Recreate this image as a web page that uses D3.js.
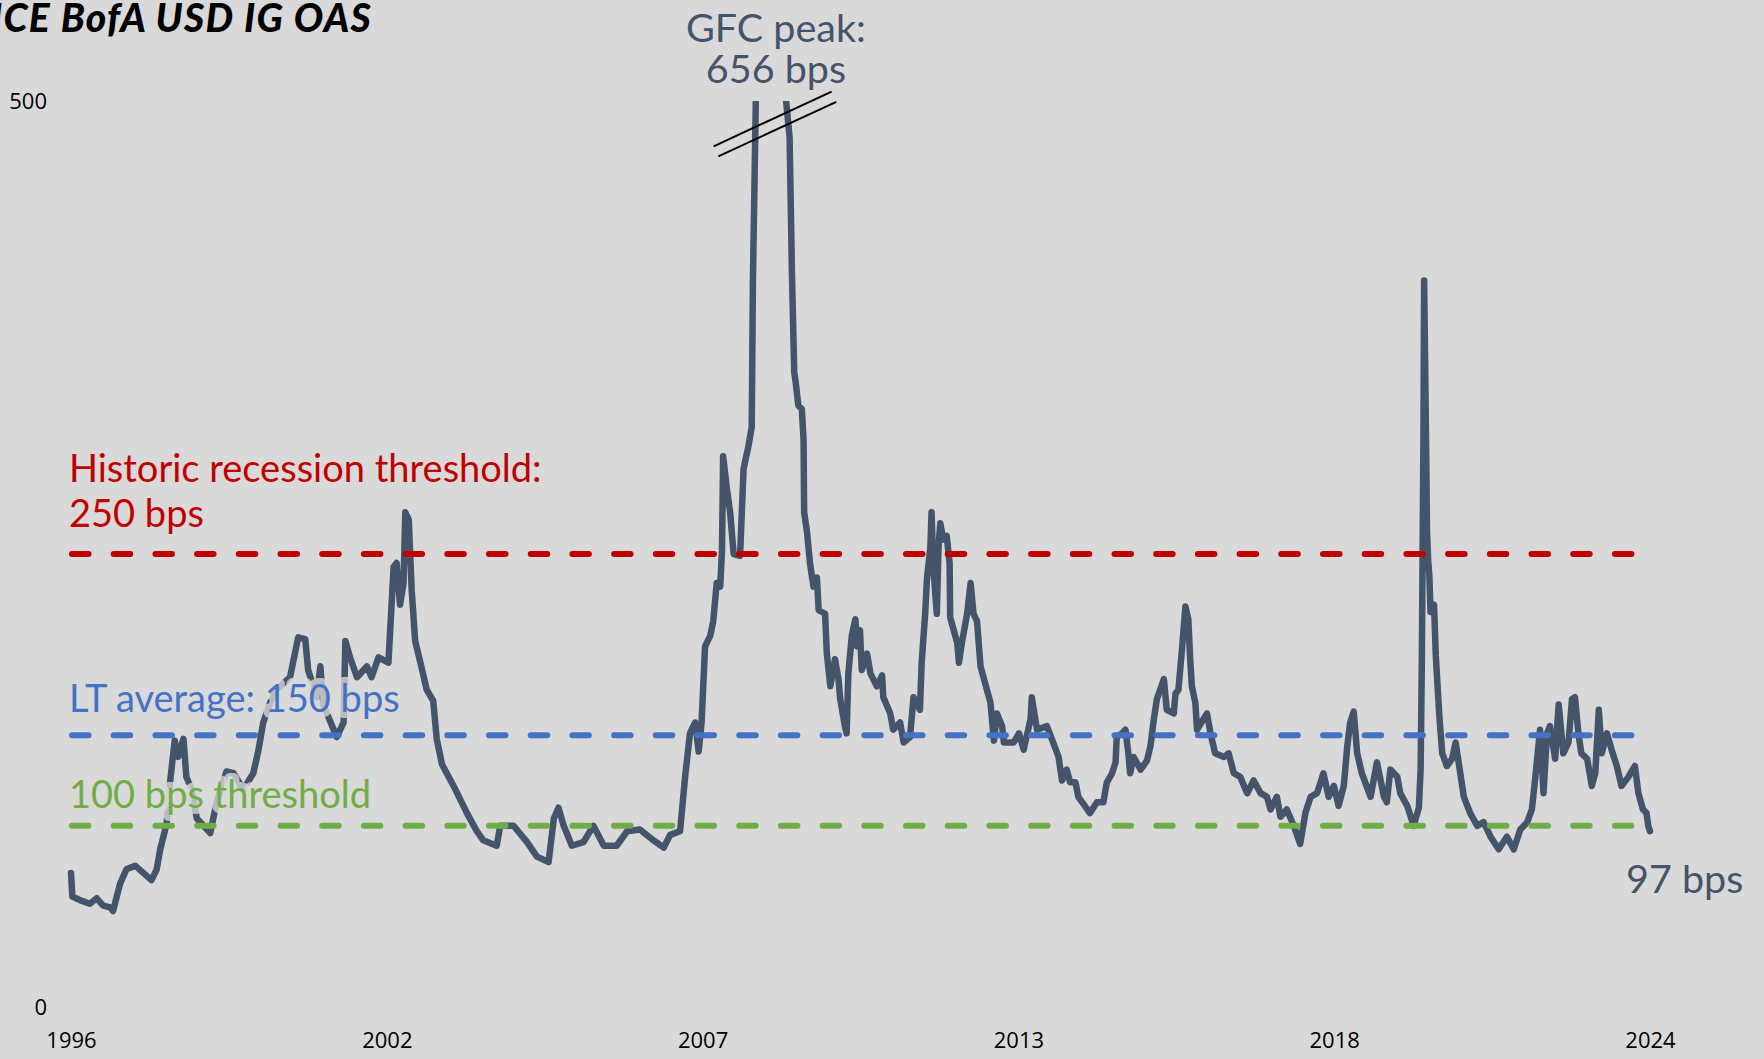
<!DOCTYPE html>
<html>
<head>
<meta charset="utf-8">
<script src="https://cdn.jsdelivr.net/npm/d3@7"></script>
<style>
  body { margin: 0; background: #d9d9d9; }
  svg { display: block; }
</style>
</head>
<body>
<svg id="chart"></svg>
<script>
// ICE BofA USD IG OAS, bps, [decimal year, value]
const oas = [
  [1996.997,74],[1997.02,61],[1997.15,59],[1997.32,57],[1997.44,60],[1997.55,56],[1997.67,55],[1997.72,53],
  [1997.84,68],[1997.95,76],[1998.10,78],[1998.24,74],[1998.38,70],[1998.47,76],[1998.53,87],[1998.64,101],
  [1998.70,124],[1998.73,133],[1998.78,147],[1998.84,138],[1998.93,148],[1998.98,127],[1999.07,120],[1999.16,104],
  [1999.39,96],[1999.50,113],[1999.67,130],[1999.79,129],[1999.96,120],[2000.13,129],[2000.22,142],[2000.30,157],
  [2000.42,168],[2000.53,175],[2000.76,182],[2000.90,204],[2001.02,203],[2001.07,186],[2001.22,171],[2001.28,188],
  [2001.33,167],[2001.56,149],[2001.68,157],[2001.71,202],[2001.79,193],[2001.91,182],[2002.08,188],[2002.16,182],
  [2002.28,193],[2002.45,190],[2002.54,243],[2002.59,245],[2002.65,222],[2002.71,234],[2002.74,273],[2002.80,269],
  [2002.85,230],[2002.91,202],[2003.00,190],[2003.11,175],[2003.22,169],[2003.28,148],[2003.37,134],[2003.57,122],
  [2003.80,107],[2003.97,97],[2004.08,92],[2004.31,89],[2004.37,100],[2004.60,100],[2004.83,91],[2005.00,83],
  [2005.20,80],[2005.29,104],[2005.37,110],[2005.46,100],[2005.60,89],[2005.80,91],[2005.97,100],[2006.15,89],
  [2006.37,89],[2006.55,97],[2006.77,98],[2007.00,92],[2007.18,88],[2007.29,95],[2007.46,97],[2007.55,128],
  [2007.63,151],[2007.72,157],[2007.78,141],[2007.83,157],[2007.89,199],[2007.98,205],[2008.03,213],[2008.09,234],
  [2008.15,232],[2008.18,252],[2008.20,304],[2008.26,287],[2008.32,273],[2008.38,250],[2008.49,249],[2008.52,273],
  [2008.55,297],[2008.63,309],[2008.69,320],[2008.71,400],[2008.77,520],[2008.85,590],[2008.93,656],[2009.00,610],
  [2009.10,570],[2009.20,540],[2009.28,500],[2009.34,480],[2009.38,405],[2009.42,350],[2009.44,346],[2009.49,332],
  [2009.55,330],[2009.58,313],[2009.59,273],[2009.64,262],[2009.69,245],[2009.75,232],[2009.81,237],[2009.84,219],
  [2009.95,217],[2009.98,195],[2010.04,177],[2010.12,192],[2010.18,181],[2010.21,170],[2010.29,155],[2010.32,151],
  [2010.35,184],[2010.41,205],[2010.47,214],[2010.50,199],[2010.55,208],[2010.58,186],[2010.67,195],[2010.73,184],
  [2010.84,177],[2010.93,183],[2010.95,171],[2011.07,162],[2011.12,153],[2011.24,157],[2011.30,146],[2011.41,149],
  [2011.47,171],[2011.58,164],[2011.61,190],[2011.67,217],[2011.70,236],[2011.76,254],[2011.78,273],[2011.81,243],
  [2011.87,217],[2011.90,254],[2011.93,267],[2011.98,258],[2012.04,260],[2012.09,245],[2012.10,215],[2012.16,208],
  [2012.22,201],[2012.25,190],[2012.30,201],[2012.39,217],[2012.45,234],[2012.50,217],[2012.56,213],[2012.62,188],
  [2012.73,175],[2012.79,168],[2012.85,147],[2012.90,162],[2012.99,155],[2013.02,146],[2013.19,146],[2013.28,151],
  [2013.36,142],[2013.48,159],[2013.50,171],[2013.59,153],[2013.76,155],[2013.82,150],[2013.96,138],[2014.02,125],
  [2014.10,131],[2014.16,124],[2014.25,124],[2014.30,116],[2014.39,112],[2014.50,107],[2014.62,113],[2014.73,113],
  [2014.79,124],[2014.88,129],[2014.94,135],[2014.96,149],[2015.05,151],[2015.11,153],[2015.16,140],[2015.19,129],
  [2015.25,138],[2015.37,131],[2015.48,136],[2015.54,144],[2015.59,157],[2015.65,170],[2015.77,181],[2015.82,164],
  [2015.94,162],[2015.97,173],[2016.02,175],[2016.08,197],[2016.14,221],[2016.19,214],[2016.22,193],[2016.25,177],
  [2016.31,168],[2016.34,153],[2016.45,159],[2016.51,162],[2016.57,151],[2016.65,140],[2016.80,138],[2016.88,140],
  [2016.97,129],[2017.08,127],[2017.20,118],[2017.31,125],[2017.43,118],[2017.54,116],[2017.60,109],[2017.71,116],
  [2017.77,105],[2017.88,109],[2018.00,100],[2018.11,90],[2018.20,107],[2018.29,116],[2018.40,118],[2018.51,129],
  [2018.60,116],[2018.69,122],[2018.77,111],[2018.86,122],[2018.92,144],[2018.97,157],[2019.03,163],[2019.09,140],
  [2019.17,129],[2019.32,116],[2019.43,135],[2019.55,116],[2019.60,113],[2019.66,131],[2019.78,127],[2019.83,118],
  [2019.95,111],[2020.06,100],[2020.15,110],[2020.18,131],[2020.20,188],[2020.23,323],[2020.24,401],[2020.27,321],
  [2020.29,262],[2020.31,246],[2020.33,238],[2020.35,218],[2020.41,222],[2020.44,194],[2020.50,161],[2020.55,140],
  [2020.63,133],[2020.72,137],[2020.78,146],[2020.86,129],[2020.92,116],[2021.03,107],[2021.15,100],[2021.26,102],
  [2021.38,94],[2021.52,87],[2021.66,94],[2021.78,87],[2021.89,98],[2022.01,102],[2022.09,109],[2022.15,127],
  [2022.23,153],[2022.29,118],[2022.35,151],[2022.40,155],[2022.49,137],[2022.55,167],[2022.63,140],[2022.72,146],
  [2022.78,170],[2022.83,171],[2022.89,151],[2022.94,140],[2023.04,137],[2023.12,122],[2023.18,129],[2023.24,164],
  [2023.29,140],[2023.38,151],[2023.46,142],[2023.55,133],[2023.63,122],[2023.75,127],[2023.86,133],[2023.92,118],
  [2024.00,109],[2024.06,107],[2024.09,100],[2024.12,97]
];

const yTicks = [0, 500];
const yMax = 500;
const thresholdValues = [250, 150, 100];
const thresholdLabels = [
  ["Historic recession threshold:", "250 bps"],
  ["LT average: 150 bps"],
  ["100 bps threshold"]
];
const gfcLabel = ["GFC peak:", "656 bps"];
const lastLabel = "97 bps";
const title = "ICE BofA USD IG OAS";

const width = 1764, height = 1059;
const lineColor = "#44546a";
const thresholdColors = ["#c00000", "#4472c4", "#70ad47"];
const labelOffsets = [-72.5, -23.7, -17.6]; // first baseline above each threshold line

function toDate(yr) {
  const y = Math.floor(yr);
  const a = new Date(y, 0, 1), b = new Date(y + 1, 0, 1);
  return new Date(+a + (yr - y) * (b - a));
}

const data = oas.map(d => ({date: toDate(d[0]), value: d[1]}));

const svg = d3.select("#chart")
    .attr("width", width)
    .attr("height", height)
    .style("background", "#d9d9d9");

const x = d3.scaleTime()
    .domain(d3.extent(data, d => d.date))
    .range([71, 1650]);

const y = d3.scaleLinear()
    .domain([0, yMax])
    .range([1007, 101]);

// title, cut off on the left like the source
svg.append("text")
    .attr("x", 372)
    .attr("y", 32)
    .attr("text-anchor", "end")
    .style("font-family", "Lato, 'Open Sans', sans-serif")
    .style("font-weight", 900)
    .style("font-style", "italic")
    .style("font-size", "39px")
    .style("letter-spacing", "1.3px")
    .style("fill", "#000")
    .text(title);

// axes: labels only
const [d0, d1] = x.domain();
const xTicks = d3.range(6).map(i => new Date(+d0 + i * (d1 - d0) / 5));

const xAxis = svg.append("g")
    .attr("transform", `translate(0,${y(0)})`)
    .call(d3.axisBottom(x).tickValues(xTicks).tickFormat(d3.timeFormat("%Y")).tickSize(0).tickPadding(25));

const yAxis = svg.append("g")
    .attr("transform", "translate(47,0)")
    .call(d3.axisLeft(y).tickValues(yTicks).tickSize(0).tickPadding(0));

[xAxis, yAxis].forEach(g => {
  g.select(".domain").remove();
  g.selectAll("text")
      .style("font-family", "'Open Sans', 'Noto Sans', sans-serif")
      .style("font-size", "22px")
      .style("fill", "#000");
});

// series, clipped at the top of the axis
svg.append("clipPath")
    .attr("id", "plotClip")
  .append("rect")
    .attr("x", 0)
    .attr("y", y(yMax))
    .attr("width", width)
    .attr("height", y(0) - y(yMax) + 40);

const line = d3.line()
    .x(d => x(d.date))
    .y(d => y(d.value));

svg.append("path")
    .datum(data)
    .attr("clip-path", "url(#plotClip)")
    .attr("d", line)
    .style("fill", "none")
    .style("stroke", lineColor)
    .style("stroke-width", 6.5)
    .style("stroke-linejoin", "round")
    .style("stroke-linecap", "round");

// threshold lines
svg.selectAll("line.threshold")
  .data(thresholdValues)
  .join("line")
    .attr("class", "threshold")
    .attr("x1", x.range()[0] + 1)
    .attr("x2", x.range()[1])
    .attr("y1", d => y(d))
    .attr("y2", d => y(d))
    .style("stroke", (d, i) => thresholdColors[i])
    .style("stroke-width", 6)
    .style("stroke-linecap", "round")
    .style("stroke-dasharray", "16.5,25.2");

// multi-line label with a soft halo (stroke painted under the fill)
function haloText(g, xPos, yPos, lines, size, lineGap, color, anchor) {
  const t = g.append("text")
      .attr("y", yPos)
      .attr("text-anchor", anchor || "start")
      .style("font-family", "Lato, 'Open Sans', sans-serif")
      .style("font-size", size + "px")
      .style("fill", color)
      .style("paint-order", "stroke")
      .style("stroke", "rgba(217,217,217,0.8)")
      .style("stroke-width", 12)
      .style("stroke-linejoin", "round");
  [].concat(lines).forEach((str, i) => {
    t.append("tspan")
        .attr("x", xPos)
        .attr("dy", i ? lineGap : 0)
        .text(str);
  });
}

const labels = svg.append("g");
thresholdValues.forEach((v, i) => {
  haloText(labels, 69, y(v) + labelOffsets[i], thresholdLabels[i], 38, 45, thresholdColors[i]);
});

// GFC peak annotation with axis break marks
const above = data.filter(d => d.value > yMax);
const gfcX = (x(above[0].date) + x(above[above.length - 1].date)) / 2 + 7;
haloText(labels, gfcX, 41.7, gfcLabel, 39.5, 41.6, lineColor, "middle");

const breakY = y(yMax) + 23;
[[-61.3, 22.3, 56.7, -32.4], [-56.6, 32.3, 61.4, -22.1]].forEach(o => {
  svg.append("line")
      .attr("x1", gfcX - 1 + o[0]).attr("y1", breakY + o[1])
      .attr("x2", gfcX - 1 + o[2]).attr("y2", breakY + o[3])
      .style("stroke", "#000")
      .style("stroke-width", 2);
});

// last value
const last = data[data.length - 1];
haloText(labels, x(last.date) - 24, y(last.value) + 62, lastLabel, 39.5, 0, lineColor);
</script>
</body>
</html>
